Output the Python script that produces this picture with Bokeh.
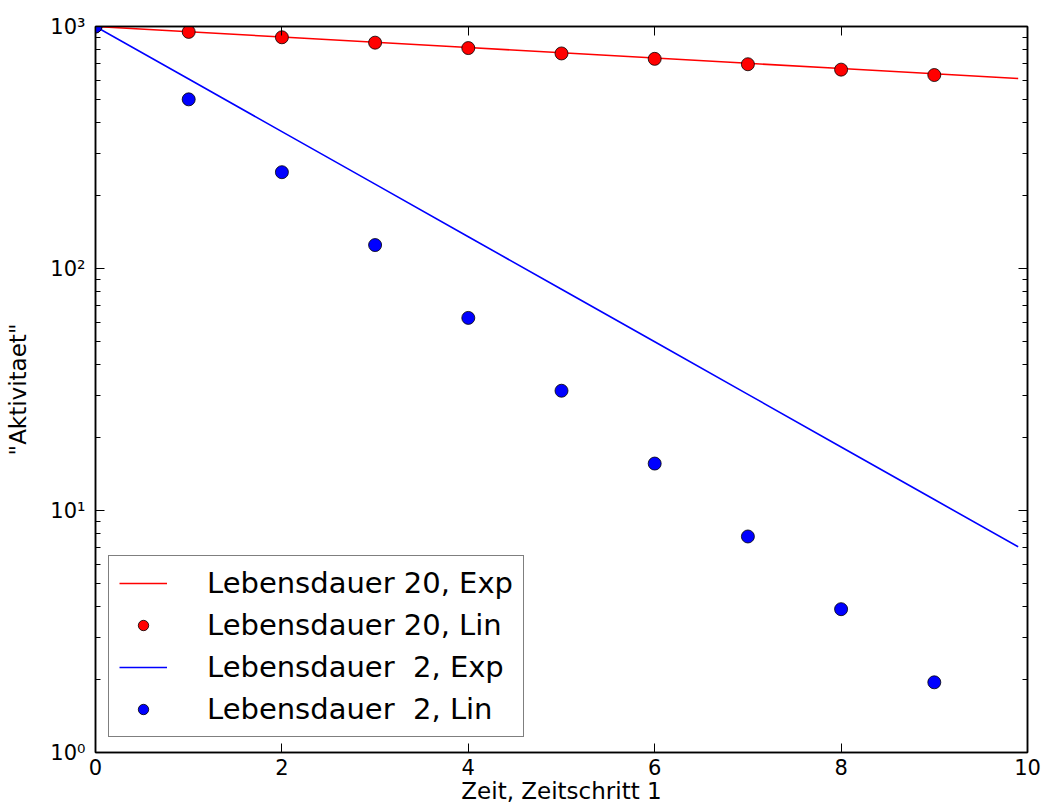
from bokeh.plotting import figure
from bokeh.models import LogAxis, LinearAxis, Range1d, CustomJSTickFormatter, FixedTicker, Legend, LegendItem
from bokeh.embed import file_html
from bokeh.resources import INLINE

# ---- data ----
t_line = [0, 1, 2, 3, 4, 5, 6, 7, 8, 9, 9.9]
exp20 = [1000, 951.2, 904.8, 860.7, 818.7, 778.8, 740.8, 704.7, 670.3, 637.6, 609.6]
exp2 = [1000, 606.5, 367.9, 223.1, 135.3, 82.1, 49.8, 30.2, 18.3, 11.1, 7.08]
t_pts = [0, 1, 2, 3, 4, 5, 6, 7, 8, 9]
lin20 = [1000, 950, 902.5, 857.4, 814.5, 773.8, 735.1, 698.3, 663.4, 630.2]
lin2 = [1000, 500, 250, 125, 62.5, 31.25, 15.63, 7.81, 3.91, 1.95]
labels = ["Lebensdauer 20, Exp", "Lebensdauer 20, Lin", "Lebensdauer  2, Exp", "Lebensdauer  2, Lin"]
x_ticks = [0, 2, 4, 6, 8, 10]
y_ticks = [1, 10, 100, 1000]
y_minor = [v * m for v in [1, 10, 100] for m in range(2, 10)]

FONT = "DejaVu Sans"

p = figure(width=1043, height=807, y_axis_type="log",
           x_range=Range1d(0, 10), y_range=Range1d(1, 1000),
           output_backend="svg", toolbar_location=None,
           min_border_left=95, min_border_top=26, min_border_right=16, min_border_bottom=55)
p.grid.visible = False
p.outline_line_color = "black"
p.outline_line_width = 1.5
p.background_fill_color = "white"
p.border_fill_color = "white"

sup = CustomJSTickFormatter(code="""
const s = {"0":"\u2070","1":"\u00b9","2":"\u00b2","3":"\u00b3"};
const e = Math.round(Math.log10(tick));
return "10" + s[String(e)];
""")
blank = CustomJSTickFormatter(code='return " ";')

xa = p.xaxis[0]
xa.ticker = FixedTicker(ticks=x_ticks)
xa.axis_label = "Zeit, Zeitschritt 1"
ya = p.yaxis[0]
ya.ticker = FixedTicker(ticks=y_ticks, minor_ticks=y_minor)
ya.formatter = sup
ya.axis_label = '"Aktivitaet"'

for ax in (xa, ya):
    ax.axis_line_color = "black"
    ax.axis_line_width = 1.5
    ax.major_tick_in = 9
    ax.major_tick_out = 0
    ax.minor_tick_in = 5
    ax.minor_tick_out = 0
    ax.major_tick_line_color = "black"
    ax.minor_tick_line_color = "black"
    ax.major_label_text_font = FONT
    ax.major_label_text_font_size = "21px"
    ax.major_label_text_color = "black"
    ax.axis_label_text_font = FONT
    ax.axis_label_text_font_size = "23px"
    ax.axis_label_text_font_style = "normal"
    ax.axis_label_text_color = "black"
xa.minor_tick_in = 0
xa.major_label_standoff = 6
xa.axis_label_standoff = 0
ya.major_label_standoff = 10
ya.axis_label_standoff = 16

ra = LogAxis(ticker=FixedTicker(ticks=y_ticks, minor_ticks=y_minor), formatter=blank,
             major_label_text_font_size="4px", major_tick_in=9, major_tick_out=0,
             minor_tick_in=5, minor_tick_out=0, axis_line_color="black", axis_line_width=1.5,
             major_label_standoff=0)
p.add_layout(ra, "right")
ta = LinearAxis(ticker=FixedTicker(ticks=x_ticks), formatter=blank, major_label_text_font_size="4px",
                major_tick_in=9, major_tick_out=0, minor_tick_in=0, minor_tick_out=0,
                axis_line_color="black", axis_line_width=1.5, major_label_standoff=0)
p.add_layout(ta, "above")

r1 = p.line(t_line, exp20, line_color="#ff0000", line_width=1.6)
r2 = p.scatter(t_pts, lin20, size=13, fill_color="#ff0000", line_color="black", line_width=0.8)
r3 = p.line(t_line, exp2, line_color="#0000ff", line_width=1.6)
r4 = p.scatter(t_pts, lin2, size=13, fill_color="#0000ff", line_color="black", line_width=0.8)

legend = Legend(items=[LegendItem(label=labels[0], renderers=[r1]),
                       LegendItem(label=labels[1], renderers=[r2]),
                       LegendItem(label=labels[2], renderers=[r3]),
                       LegendItem(label=labels[3], renderers=[r4])],
                location=(13, 15))
legend.label_text_font = FONT
legend.label_text_font_size = "29px"
legend.label_text_color = "black"
legend.border_line_color = "black"
legend.border_line_width = 1.5
legend.glyph_width = 48
legend.glyph_height = 26
legend.label_height = 26
legend.label_standoff = 40
legend.spacing = 8
legend.padding = 10
legend.margin = 0
legend.background_fill_alpha = 1.0
p.add_layout(legend, "center")

open("out.html", "w").write(file_html(p, INLINE))
